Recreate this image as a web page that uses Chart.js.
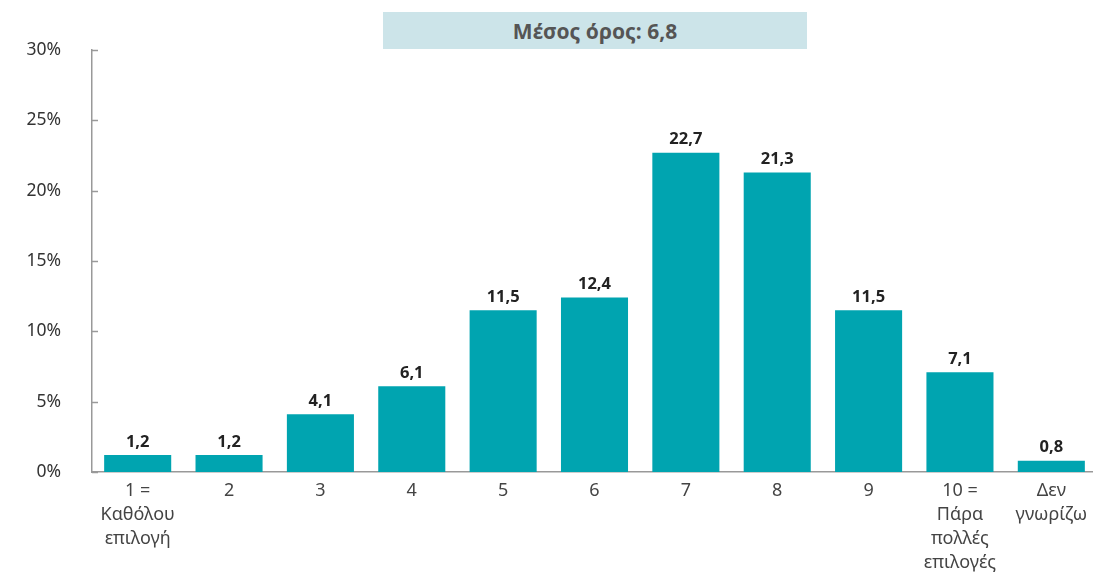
<!DOCTYPE html>
<html lang="el">
<head>
<meta charset="utf-8">
<title>Μέσος όρος</title>
<script src="https://cdn.jsdelivr.net/npm/chart.js@4"></script>
<style>
    html, body { margin: 0; padding: 0; background: #fff; overflow: hidden; }
    #wrap { position: relative; width: 1093px; height: 575px; overflow: hidden; }
    #mean-box {
        position: absolute; left: 383px; top: 12px; width: 424px; height: 37px;
        background: #cce4e9; color: #555; font: bold 21px "Noto Sans", sans-serif;
        display: flex; align-items: center; justify-content: center;
    }
</style>
</head>
<body>
<div id="wrap">
    <canvas id="chart" width="1097" height="575"></canvas>
    <div id="mean-box">Μέσος όρος: 6,8</div>
</div>
<script>
// Categories (multi-line labels)
const categories = [
    ['1 =', 'Καθόλου', 'επιλογή'],
    '2', '3', '4', '5', '6', '7', '8', '9',
    ['10 =', 'Πάρα', 'πολλές', 'επιλογές'],
    ['Δεν', 'γνωρίζω']
];

// Percentages
const values = [1.2, 1.2, 4.1, 6.1, 11.5, 12.4, 22.7, 21.3, 11.5, 7.1, 0.8];

// Y axis
const yTicks = [0, 5, 10, 15, 20, 25, 30];

const BAR_COLOR = '#00a4b0';
const FONT = '"Noto Sans", sans-serif';

// value labels above bars + inward ticks on the y axis
const extras = {
    id: 'extras',
    afterDatasetsDraw(chart) {
        const ctx = chart.ctx;
        const meta = chart.getDatasetMeta(0);
        ctx.save();
        ctx.fillStyle = '#222';
        ctx.font = 'bold 16.5px ' + FONT;
        ctx.textAlign = 'center';
        ctx.textBaseline = 'bottom';
        meta.data.forEach((bar, i) => {
            ctx.fillText(values[i].toFixed(1).replace('.', ','), bar.x, bar.y - 5);
        });

        const y = chart.scales.y;
        ctx.strokeStyle = '#999';
        ctx.lineWidth = 1.5;
        yTicks.forEach(t => {
            const py = Math.round(y.getPixelForValue(t)) + 0.5;
            ctx.beginPath();
            ctx.moveTo(y.right, py);
            ctx.lineTo(y.right + 6, py);
            ctx.stroke();
        });
        ctx.restore();
    }
};

new Chart(document.getElementById('chart'), {
    type: 'bar',
    data: {
        labels: categories,
        datasets: [{
            data: values,
            backgroundColor: BAR_COLOR,
            barPercentage: 0.734,
            categoryPercentage: 1.0
        }]
    },
    options: {
        responsive: false,
        animation: false,
        layout: { padding: { top: 50, right: 0, left: 0, bottom: 0 } },
        plugins: {
            legend: { display: false },
            tooltip: { enabled: false }
        },
        scales: {
            x: {
                grid: { display: false, drawTicks: false },
                border: { color: '#999', width: 1.5 },
                ticks: {
                    color: '#444',
                    font: { family: FONT, size: 18, lineHeight: 1.33 },
                    padding: 7,
                    maxRotation: 0,
                    autoSkip: false
                },
                afterFit(scale) { scale.height = 103; }
            },
            y: {
                min: 0,
                max: 30,
                grid: { display: false, drawTicks: false },
                border: { color: '#999', width: 1.5 },
                ticks: {
                    stepSize: 5,
                    color: '#333',
                    padding: 31,
                    font: { family: FONT, size: 17.5 },
                    callback: v => v + '%'
                },
                afterFit(scale) { scale.width = 92; }
            }
        }
    },
    plugins: [extras]
});
</script>
</body>
</html>
